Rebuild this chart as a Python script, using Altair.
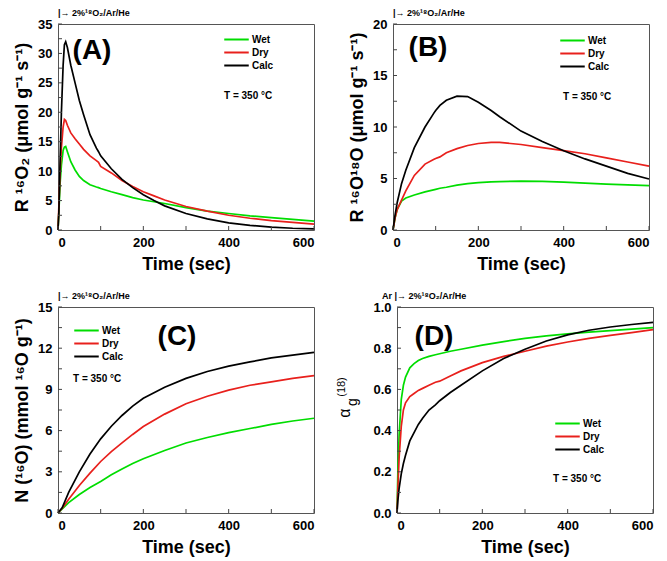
import altair as alt
import pandas as pd

FONT = "Liberation Sans"
GREEN = "#00dd00"
RED = "#e8201c"
BLACK = "#000000"
series = ["Wet", "Dry", "Calc"]

# ---- Panel A: R 16O2 ----
tA = [0, 2, 5, 8, 12, 15, 18, 22, 30, 40, 50, 60, 75, 90, 95, 100, 125, 150, 175, 200, 225, 250, 300, 350, 400, 450, 500, 550, 600]
a_wet = [0, 3, 8, 11, 13.5, 14.1, 14.2, 13.3, 11.6, 10.2, 9.1, 8.4, 7.7, 7.3, 7.2, 7.05, 6.5, 6.0, 5.5, 5.1, 4.8, 4.5, 3.8, 3.2, 2.8, 2.4, 2.1, 1.8, 1.5]
a_dry = [0, 4, 10, 14, 17.5, 18.8, 18.6, 17.8, 16.5, 15.5, 14.6, 13.7, 12.6, 11.8, 11.5, 10.8, 9.7, 8.4, 7.4, 6.5, 5.8, 5.1, 4.0, 3.2, 2.5, 2.0, 1.6, 1.3, 1.0]
a_calc = [0, 3, 12, 20, 28, 31.5, 32, 31, 28, 25, 22, 19.6, 16.2, 13.9, 13.3, 12.6, 10.4, 8.6, 7.2, 6.0, 5.0, 4.1, 2.8, 1.9, 1.2, 0.8, 0.5, 0.3, 0.2]

# ---- Panel B: R 16O18O ----
tB = [0, 5, 10, 20, 30, 50, 75, 95, 100, 110, 125, 150, 175, 200, 230, 250, 300, 350, 400, 450, 500, 550, 600]
b_wet = [0, 1.2, 2.0, 2.8, 3.1, 3.4, 3.7, 3.9, 3.95, 4.05, 4.15, 4.35, 4.5, 4.6, 4.68, 4.7, 4.75, 4.72, 4.65, 4.55, 4.45, 4.38, 4.3]
b_dry = [0, 1.2, 2.0, 2.9, 3.8, 5.3, 6.4, 6.85, 6.95, 7.1, 7.5, 7.9, 8.2, 8.4, 8.5, 8.5, 8.3, 8.0, 7.7, 7.4, 7.0, 6.6, 6.2]
b_calc = [0, 1.5, 2.7, 4.5, 5.8, 8.0, 10.0, 11.3, 11.6, 12.1, 12.6, 13.0, 12.95, 12.4, 11.6, 11.0, 9.6, 8.6, 7.7, 6.9, 6.2, 5.5, 4.95]

# ---- Panel C: N(16O) ----
tC = [0, 10, 25, 50, 75, 100, 125, 150, 175, 200, 250, 300, 350, 400, 450, 500, 550, 600]
c_wet = [0, 0.3, 0.75, 1.35, 1.85, 2.3, 2.78, 3.2, 3.6, 3.95, 4.55, 5.1, 5.5, 5.85, 6.15, 6.45, 6.7, 6.9]
c_dry = [0, 0.35, 1.0, 2.0, 2.9, 3.75, 4.47, 5.1, 5.72, 6.3, 7.2, 7.95, 8.5, 8.95, 9.3, 9.55, 9.8, 10.0]
c_calc = [0, 0.4, 1.5, 3.0, 4.3, 5.4, 6.32, 7.1, 7.78, 8.35, 9.15, 9.8, 10.3, 10.7, 11.0, 11.3, 11.5, 11.7]

# ---- Panel D: alpha_g(18) ----
tD = [0, 2, 5, 10, 15, 20, 30, 40, 50, 60, 75, 90, 100, 125, 150, 200, 250, 300, 350, 400, 450, 500, 550, 600]
d_wet = [0, 0.2, 0.38, 0.55, 0.62, 0.66, 0.705, 0.725, 0.74, 0.75, 0.76, 0.768, 0.773, 0.785, 0.795, 0.815, 0.832, 0.848, 0.86, 0.87, 0.878, 0.885, 0.893, 0.9]
d_dry = [0, 0.12, 0.27, 0.42, 0.5, 0.535, 0.565, 0.58, 0.595, 0.605, 0.62, 0.635, 0.64, 0.665, 0.69, 0.73, 0.76, 0.785, 0.81, 0.83, 0.848, 0.862, 0.876, 0.89]
d_calc = [0, 0.06, 0.12, 0.19, 0.24, 0.28, 0.35, 0.39, 0.43, 0.46, 0.5, 0.525, 0.545, 0.585, 0.62, 0.69, 0.75, 0.795, 0.835, 0.865, 0.887, 0.903, 0.915, 0.925]

x_major = [0, 200, 400, 600]
x_ticks = [0, 100, 200, 300, 400, 500, 600]

W, H = 256, 206


def panel(times, vals, ymax, yvals, yticks, ytitle, header, tag, tagxy,
          legxy, txy, yfmt="d", header_dx=0, extra=None):
    rows = []
    for s, v in zip(series, vals):
        for t, y in zip(times, v):
            rows.append({"t": t, "v": y, "s": s})
    df = pd.DataFrame(rows)
    xs = alt.Scale(domain=[0, 600], nice=False, zero=False)
    ys = alt.Scale(domain=[0, ymax], nice=False, zero=False)
    color = alt.Color(
        "s:N",
        scale=alt.Scale(domain=series, range=[GREEN, RED, BLACK]),
        legend=alt.Legend(
            title=None, orient="none", legendX=legxy[0], legendY=legxy[1],
            symbolType="stroke", symbolSize=600, symbolStrokeWidth=2,
            labelFont=FONT, labelFontWeight="bold", labelFontSize=10,
            labelColor="black", padding=0, rowPadding=0, labelOffset=2,
            clipHeight=13,
        ),
    )
    yaxis = alt.Axis(values=yvals, title=ytitle if ytitle is not None else "", format=yfmt,
                     labelOverlap=False, tickCount=len(yvals))
    lines = alt.Chart(df).mark_line(strokeWidth=1.7).encode(
        x=alt.X("t:Q", scale=xs, axis=alt.Axis(values=x_major, title="Time (sec)", labelOverlap=False)),
        y=alt.Y("v:Q", scale=ys, axis=yaxis),
        color=color,
    )
    xt = alt.Chart(pd.DataFrame({"t": x_ticks})).mark_rule(color="#444", strokeWidth=1).encode(
        x=alt.X("t:Q", scale=xs), y=alt.value(H), y2=alt.value(H - 4)
    )
    yt = alt.Chart(pd.DataFrame({"v": yticks})).mark_rule(color="#444", strokeWidth=1).encode(
        y=alt.Y("v:Q", scale=ys), x=alt.value(0), x2=alt.value(4)
    )
    tagc = alt.Chart(pd.DataFrame({"label": [tag]})).mark_text(
        font=FONT, fontWeight="bold", fontSize=28, align="center", baseline="middle", color="black"
    ).encode(x=alt.value(tagxy[0]), y=alt.value(tagxy[1]), text="label:N")
    tc = alt.Chart(pd.DataFrame({"label": ["T = 350 \u00b0C"]})).mark_text(
        font=FONT, fontWeight="bold", fontSize=10, align="left", baseline="middle", color="black"
    ).encode(x=alt.value(txy[0]), y=alt.value(txy[1]), text="label:N")
    layers = [lines, xt, yt, tagc, tc]
    if extra:
        layers += extra
    return alt.layer(*layers).properties(
        width=W, height=H,
        title=alt.TitleParams(header, anchor="start", fontSize=9, font=FONT, fontWeight="bold",
                              offset=0, dx=header_dx, frame="group", color="black"),
    )


hdr = "|\u2192 2%\u00b9\u2078O\u2082/Ar/He"

A = panel(tA, [a_wet, a_dry, a_calc], 35, [0, 5, 10, 15, 20, 25, 30, 35], [i * 2.5 for i in range(15)],
          "R \u00b9\u2076O\u2082 (\u03bcmol g\u207b\u00b9 s\u207b\u00b9)", hdr, "(A)", (34, 27),
          (165, 9), (166, 72))
B = panel(tB, [b_wet, b_dry, b_calc], 20, [0, 5, 10, 15, 20], [i * 2.5 for i in range(9)],
          "R \u00b9\u2076O\u00b9\u2078O (\u03bcmol g\u207b\u00b9 s\u207b\u00b9)", hdr, "(B)", (35, 24),
          (166, 10), (170, 73))
C = panel(tC, [c_wet, c_dry, c_calc], 15, [0, 3, 6, 9, 12, 15], [i * 1.5 for i in range(11)],
          "N (\u00b9\u2076O) (mmol \u00b9\u2076O g\u207b\u00b9)", hdr, "(C)", (119, 30),
          (15, 17), (15, 72))

alpha_parts = []
for txt, px, py, fs in [("\u03b1", -52, 106, 16), ("g", -44, 95, 14), ("(18)", -55, 80, 11)]:
    alpha_parts.append(
        alt.Chart(pd.DataFrame({"label": [txt]})).mark_text(
            font=FONT, fontSize=fs, angle=270, align="center", baseline="middle", color="black"
        ).encode(x=alt.value(px), y=alt.value(py), text="label:N")
    )

D = panel(tD, [d_wet, d_dry, d_calc], 1.0, [0, 0.2, 0.4, 0.6, 0.8, 1.0], [i * 0.1 for i in range(11)],
          None, "Ar " + hdr, "(D)", (37, 30), (157, 110), (156, 172), yfmt=".1f", header_dx=-15,
          extra=alpha_parts)

row1 = alt.hconcat(A, B, spacing=30).resolve_scale(color="independent").resolve_legend(color="independent")
row2 = alt.hconcat(C, D, spacing=17).resolve_scale(color="independent").resolve_legend(color="independent")

chart = alt.vconcat(
    row1, row2, spacing=17, background="white",
    padding={"left": 5, "top": 0, "right": 0, "bottom": 0},
).configure_view(
    stroke="#555", strokeWidth=1
).configure_axis(
    labelFont=FONT, labelFontWeight="bold", labelFontSize=13, labelColor="black",
    titleFont=FONT, titleFontWeight="bold", titleFontSize=18, titleColor="black",
    ticks=False, domain=False, grid=False, labelPadding=6, titlePadding=6,
    labelOverlap=False,
)

chart.save("out.html", embed_options={"renderer": "svg", "actions": False})
